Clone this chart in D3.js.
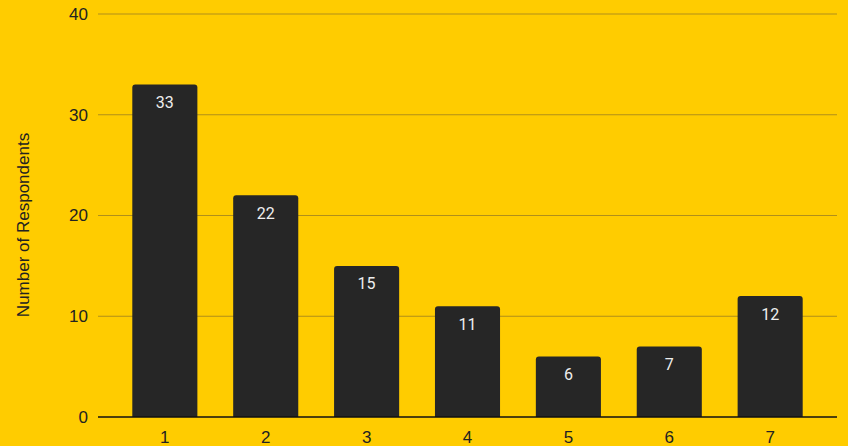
<!DOCTYPE html>
<html>
<head>
<meta charset="utf-8">
<script src="https://cdn.jsdelivr.net/npm/d3@7"></script>
<style>
  body { margin: 0; background: #ffcc00; }
  text { font-family: "Liberation Sans", Arial, sans-serif; }
  .val { font-family: Roboto, "Noto Sans", sans-serif; }
</style>
</head>
<body>
<div id="chart"></div>
<script>
var categories = ["1", "2", "3", "4", "5", "6", "7"];
var respondents = [33, 22, 15, 11, 6, 7, 12];
var yTicks = [0, 10, 20, 30, 40];

var width = 848, height = 446;
var plotLeft = 98, plotRight = 837, plotTop = 14, plotBottom = 417;

var svg = d3.select("#chart").append("svg")
  .attr("width", width)
  .attr("height", height);

svg.append("rect").attr("width", width).attr("height", height).attr("fill", "#ffcc00");

var x = d3.scaleBand().domain(categories).range([plotLeft, plotRight])
  .paddingInner(0.355).paddingOuter(0.34);
var y = d3.scaleLinear().domain([0, 40]).range([plotBottom, plotTop]);

// gridlines
svg.append("g").selectAll("line")
  .data(yTicks.filter(function(d) { return d > 0; }))
  .enter().append("line")
  .attr("x1", plotLeft).attr("x2", plotRight)
  .attr("y1", function(d) { return y(d); })
  .attr("y2", function(d) { return y(d); })
  .attr("stroke", "#b08f1a")
  .attr("stroke-width", 1);

// y tick labels
svg.append("g").selectAll("text")
  .data(yTicks)
  .enter().append("text")
  .attr("x", plotLeft - 10)
  .attr("y", function(d) { return y(d); })
  .attr("dy", "0.35em")
  .attr("text-anchor", "end")
  .attr("font-size", 17)
  .attr("fill", "#222")
  .text(function(d) { return d; });

// bars with rounded tops
function barPath(d, i) {
  var x0 = x(categories[i]), w = x.bandwidth();
  var y0 = y(d), y1 = y(0), r = 3;
  return "M" + x0 + "," + y1 + "V" + (y0 + r) +
    "Q" + x0 + "," + y0 + " " + (x0 + r) + "," + y0 +
    "H" + (x0 + w - r) +
    "Q" + (x0 + w) + "," + y0 + " " + (x0 + w) + "," + (y0 + r) +
    "V" + y1 + "Z";
}

svg.append("g").selectAll("path")
  .data(respondents)
  .enter().append("path")
  .attr("d", barPath)
  .attr("fill", "#262626");

// value labels
svg.append("g").selectAll("text")
  .data(respondents)
  .enter().append("text")
  .attr("class", "val")
  .attr("x", function(d, i) { return x(categories[i]) + x.bandwidth() / 2; })
  .attr("y", function(d) { return y(d) + 18; })
  .attr("dy", "0.35em")
  .attr("text-anchor", "middle")
  .attr("font-size", 16)
  .attr("fill", "#eeeeee")
  .text(function(d) { return d; });

// baseline
svg.append("line")
  .attr("x1", plotLeft).attr("x2", plotRight)
  .attr("y1", y(0)).attr("y2", y(0))
  .attr("stroke", "#111")
  .attr("stroke-width", 1.5);

// x labels
svg.append("g").selectAll("text")
  .data(categories)
  .enter().append("text")
  .attr("x", function(d) { return x(d) + x.bandwidth() / 2; })
  .attr("y", plotBottom + 20)
  .attr("dy", "0.35em")
  .attr("text-anchor", "middle")
  .attr("font-size", 17)
  .attr("fill", "#222")
  .text(function(d) { return d; });

// y axis title
svg.append("text")
  .attr("transform", "translate(23,225) rotate(-90)")
  .attr("dy", "0.35em")
  .attr("text-anchor", "middle")
  .attr("font-size", 17)
  .attr("fill", "#222")
  .text("Number of Respondents");
</script>
</body>
</html>
